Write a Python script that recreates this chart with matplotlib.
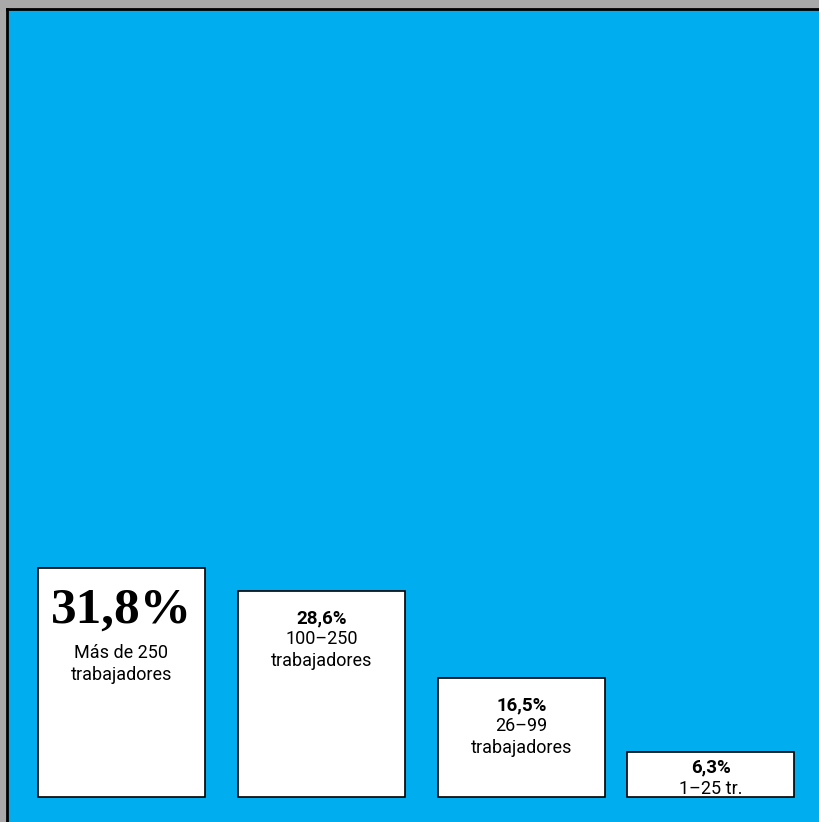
import matplotlib.pyplot as plt

values = [31.8, 28.6, 16.5, 6.3]
pct_labels = ['31,8%', '28,6%', '16,5%', '6,3%']
sub_labels = [['Más de 250', 'trabajadores'],
              ['100–250', 'trabajadores'],
              ['26–99', 'trabajadores'],
              ['1–25 tr.']]

blue = '#00AEEF'
grey = '#A9A9A9'
px = 7.2  # pixels per percentage point

fig = plt.figure(figsize=(8.19, 8.22), dpi=100, facecolor=grey)
ax = fig.add_axes([7 / 819, 0, 812 / 819, 813 / 822])
ax.set_facecolor(blue)

# bar centres in axes pixels
xs = [114.5, 314.5, 514.5, 703.5]
ax.bar(xs, values, width=167, color='white', edgecolor='black', linewidth=1.2, zorder=3)
ax.set_xlim(0, 812)
ax.set_ylim(-25 / px, 788 / px)

for sp in ['right', 'bottom']:
    ax.spines[sp].set_visible(False)
for sp in ['top', 'left']:
    ax.spines[sp].set_linewidth(2)
ax.set_xticks([])
ax.set_yticks([])

sans = ['Roboto', 'DejaVu Sans']

# first bar: big serif number
ax.annotate(pct_labels[0], (xs[0], values[0]), xytext=(0, -43), textcoords='offset pixels',
            ha='center', va='center', fontsize=37, fontweight='bold',
            family='Liberation Serif', zorder=4)
ax.annotate(sub_labels[0][0], (xs[0], values[0]), xytext=(0, -85), textcoords='offset pixels',
            ha='center', va='center', fontsize=13, family=sans, zorder=4)
ax.annotate(sub_labels[0][1], (xs[0], values[0]), xytext=(0, -107), textcoords='offset pixels',
            ha='center', va='center', fontsize=13, family=sans, zorder=4)

for i in range(1, 4):
    top_off = -27 if i < 3 else -16
    ax.annotate(pct_labels[i], (xs[i], values[i]), xytext=(0, top_off), textcoords='offset pixels',
                ha='center', va='center', fontsize=13.5, fontweight='bold', family=sans, zorder=4)
    for j, s in enumerate(sub_labels[i]):
        ax.annotate(s, (xs[i], values[i]), xytext=(0, top_off - 21 - 22 * j),
                    textcoords='offset pixels', ha='center', va='center',
                    fontsize=13, family=sans, zorder=4)

fig.savefig('out.png', dpi=100, facecolor=grey)
